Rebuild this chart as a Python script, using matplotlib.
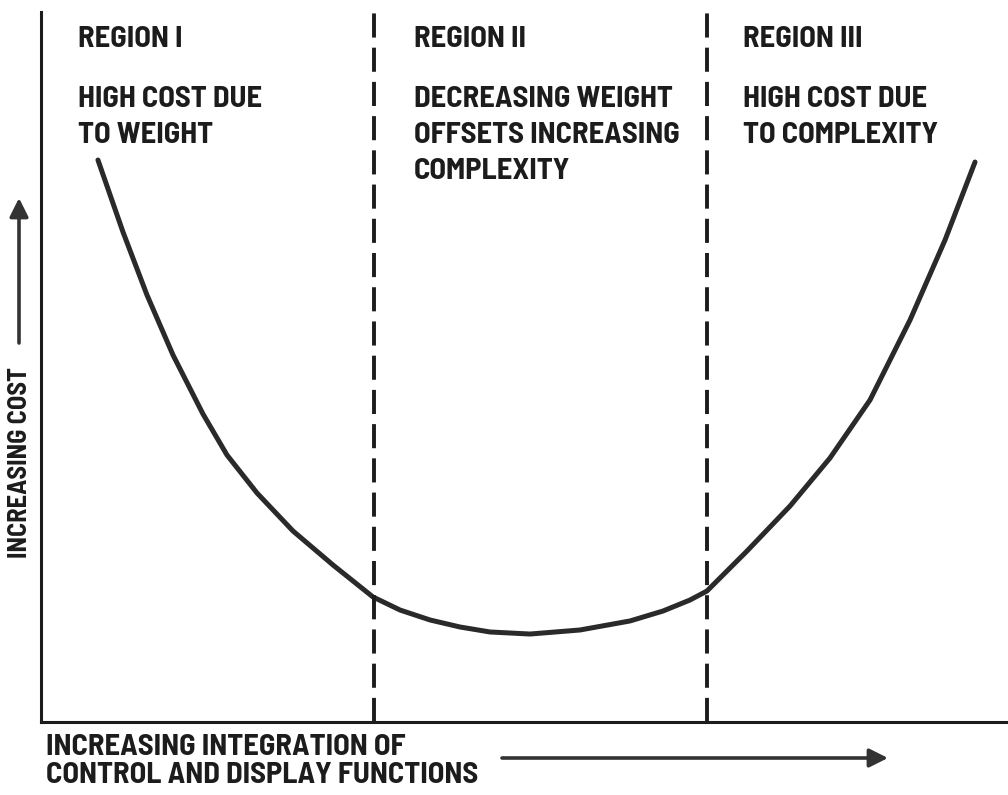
import matplotlib
matplotlib.use("Agg")
import matplotlib.pyplot as plt
from matplotlib import font_manager as fm

# cost curve (x: integration 0-100, y: cost 0-100)
integ = [5.89, 8.48, 10.96, 13.65, 16.75, 19.23, 22.34, 26.06, 30.20, 34.33, 37.13,
         40.23, 43.33, 46.43, 50.57, 55.74, 60.91, 64.32, 67.11, 68.87, 73.01, 77.46,
         81.59, 85.73, 89.87, 93.49, 96.59]
cost = [79.15, 69.01, 60.14, 51.69, 43.38, 37.61, 32.25, 26.90, 22.11, 17.61, 15.77,
        14.37, 13.38, 12.68, 12.39, 12.96, 14.23, 15.63, 17.18, 18.45, 24.08, 30.42,
        37.18, 45.35, 56.62, 67.89, 78.87]

# region borders
borders = [34.4, 68.9]

region_titles = ["REGION I", "REGION II", "REGION III"]
region_notes = [["HIGH COST DUE", "TO WEIGHT"],
                ["DECREASING WEIGHT", "OFFSETS INCREASING", "COMPLEXITY"],
                ["HIGH COST DUE", "TO COMPLEXITY"]]

xlabel_lines = ["INCREASING INTEGRATION OF", "CONTROL AND DISPLAY FUNCTIONS"]
ylabel = "INCREASING COST"

W, H = 1008, 795
ink = "#1c1c1c"

# narrow-ish font if there is one, else squeeze DejaVu a bit
try:
    fm.findfont(fm.FontProperties(family="Barlow Semi Condensed", weight=700),
                fallback_to_default=False)
    font = dict(family=["Barlow Semi Condensed", "DejaVu Sans"], fontweight=700)
    big, small = 22, 19
except ValueError:
    font = dict(family=["DejaVu Sans"], fontweight="bold", fontstretch="condensed")
    big, small = 15, 13

fig = plt.figure(figsize=(W / 100, H / 100), dpi=100)
ax = fig.add_axes([41 / W, 73 / H, 967 / W, 710 / H])
ax.set_xlim(0, 100)
ax.set_ylim(0, 100)

ax.plot(integ, cost, color="#2a2a2a", lw=3.6, solid_capstyle="round", solid_joinstyle="round")
for b in borders:
    ax.axvline(b, ymin=0, ymax=1.003, color=ink, lw=2.8, ls=(0, (6.2, 2.6)), clip_on=False)

for s in ["top", "right"]:
    ax.spines[s].set_visible(False)
for s in ["left", "bottom"]:
    ax.spines[s].set_linewidth(2.2)
    ax.spines[s].set_color(ink)
ax.set_xticks([])
ax.set_yticks([])


def px(x, y):
    return x / W, 1 - y / H


# region texts
text_x = [78, 414, 743]
for tx, title, notes in zip(text_x, region_titles, region_notes):
    fig.text(*px(tx, 47), title, fontsize=big, color=ink, va="baseline", **font)
    for i, line in enumerate(notes):
        fig.text(*px(tx, 107 + 36 * i), line, fontsize=big, color=ink, va="baseline", **font)

# x label and arrow
for i, line in enumerate(xlabel_lines):
    fig.text(*px(46, 755 + 28 * i), line, fontsize=big, color=ink, va="baseline", **font)
ax.annotate("", xy=px(888, 758), xytext=px(502, 758), xycoords="figure fraction",
            textcoords="figure fraction",
            arrowprops=dict(arrowstyle="-|>", lw=2.6, color="#333333", mutation_scale=28,
                            shrinkA=0, shrinkB=0))

# y label and arrow
fig.text(*px(20, 558), ylabel, fontsize=small, color=ink, rotation=90, ha="center",
         va="bottom", **font)
ax.annotate("", xy=px(19, 198), xytext=px(19, 343), xycoords="figure fraction",
            textcoords="figure fraction",
            arrowprops=dict(arrowstyle="-|>", lw=2.6, color="#333333", mutation_scale=28,
                            shrinkA=0, shrinkB=0))

fig.savefig("out.png", dpi=100)
